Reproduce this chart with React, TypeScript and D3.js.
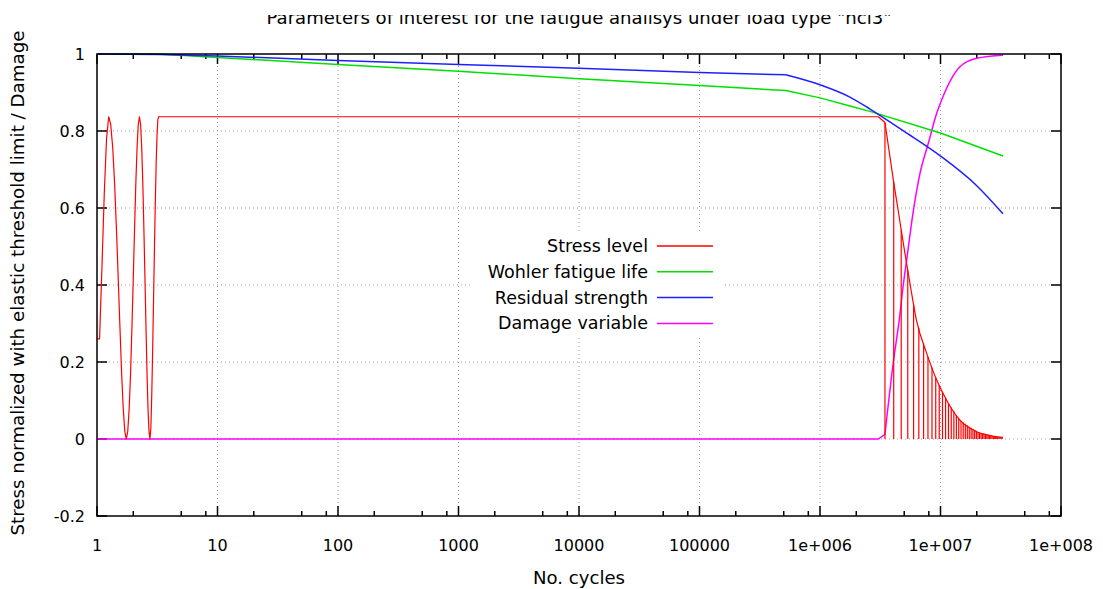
import React, { useEffect, useRef } from "react";
import * as d3 from "d3";

const title = 'Parameters of interest for the fatigue analisys under load type "ncl3"';
const xLabel = "No. cycles";
const yLabel = "Stress normalized with elastic threshold limit / Damage";

const xTicks = [1, 10, 100, 1000, 10000, 100000, 1e6, 1e7, 1e8];
const xTickLabels = ["1", "10", "100", "1000", "10000", "100000", "1e+006", "1e+007", "1e+008"];
const xMinorSteps = [2, 5, 8];
const yTicks = [-0.2, 0, 0.2, 0.4, 0.6, 0.8, 1];
const yTickLabels = ["-0.2", "0", "0.2", "0.4", "0.6", "0.8", "1"];

const seriesNames = ["Stress level", "Wohler fatigue life", "Residual strength", "Damage variable"];
const seriesColors = ["#ff0000", "#00e000", "#2020ff", "#ff00ff"];

// stress level: first cycles + plateau
const stressCycles = [
  1, 1.05, 1.1, 1.15, 1.2, 1.25, 1.3, 1.35, 1.4, 1.45, 1.5, 1.55, 1.6, 1.65, 1.7, 1.75,
  1.8, 1.85, 1.9, 1.95, 2.0, 2.05, 2.1, 2.15, 2.2, 2.25, 2.3, 2.35, 2.4, 2.45, 2.5, 2.55,
  2.6, 2.65, 2.7, 2.75, 2.8, 2.85, 2.9, 2.95, 3.0, 3.05, 3.1, 3.15, 3.2, 3.25, 3.05e6, 3.46e6,
];
const stressValues = [
  0.26, 0.26, 0.45, 0.64, 0.78, 0.837, 0.817, 0.757, 0.664, 0.545, 0.418, 0.291, 0.172, 0.08, 0.02, 0,
  0.02, 0.08, 0.172, 0.291, 0.418, 0.545, 0.664, 0.757, 0.817, 0.837, 0.817, 0.757, 0.664, 0.545, 0.418, 0.291,
  0.172, 0.08, 0.02, 0, 0.03, 0.12, 0.24, 0.37, 0.5, 0.62, 0.72, 0.79, 0.83, 0.837, 0.837, 0.822,
];
// stress level: decaying part (upper envelope)
const decayCycles = [3.46e6, 4.06e6, 4.5e6, 5.08e6, 5.7e6, 6.3e6, 7.67e6, 9.3e6, 1.16e7, 1.45e7, 2.0e7, 2.6e7, 3.3e7];
const decayValues = [0.822, 0.673, 0.585, 0.48, 0.387, 0.31, 0.223, 0.153, 0.093, 0.049, 0.019, 0.009, 0.004];
// cycles (millions) where the stress drops to zero
const stressZeroCycles = [
  3.46, 4.09, 4.72, 5.35, 5.98, 6.61, 7.24, 7.87, 8.5, 9.13, 9.76, 10.39, 11.02, 11.65, 12.28, 12.91,
  13.54, 14.17, 14.8, 15.43, 16.06, 16.69, 17.32, 17.95, 18.58, 19.21, 19.84, 20.47, 21.1, 21.73, 22.36,
  22.99, 23.62, 24.25, 24.88, 25.51, 26.14, 26.77, 27.4, 28.03, 28.66, 29.29, 29.92, 30.55, 31.18, 31.81, 32.44,
];

const wohlerCycles = [1, 3.3, 10, 100, 1000, 1e4, 1e5, 5.2e5, 1e6, 1.77e6, 2.6e6, 1e7, 3.3e7];
const wohlerValues = [1, 1, 0.991, 0.973, 0.955, 0.936, 0.918, 0.905, 0.886, 0.865, 0.851, 0.795, 0.735];

const residualCycles = [1, 3.3, 10, 100, 1000, 1e4, 1e5, 5.2e5, 1e6, 1.77e6, 2.6e6, 5e6, 1e7, 2e7, 3.3e7];
const residualValues = [1, 0.999, 0.995, 0.983, 0.973, 0.963, 0.952, 0.946, 0.92, 0.888, 0.857, 0.799, 0.735, 0.658, 0.585];

const damageCycles = [1, 3.05e6, 3.46e6, 4.06e6, 4.55e6, 4.91e6, 5.24e6, 5.9e6, 6.76e6, 7.92e6, 9.3e6, 1.02e7, 1.45e7, 2e7, 3.3e7];
const damageValues = [0, 0, 0.012, 0.2, 0.31, 0.4, 0.465, 0.585, 0.69, 0.768, 0.846, 0.88, 0.967, 0.989, 0.997];

const FONT = "DejaVu Sans, Verdana, sans-serif";

const FatigueChart = () => {
  const ref = useRef(null);

  useEffect(() => {
    const width = 1103;
    const height = 589;
    const left = 97, right = 1061, top = 54, bottom = 516;

    d3.select(ref.current).selectAll("*").remove();

    const svg = d3
      .select(ref.current)
      .append("svg")
      .attr("width", width)
      .attr("height", height)
      .style("position", "absolute")
      .style("left", "0px")
      .style("top", "0px")
      .style("background", "#fff");

    const x = d3.scaleLog().domain([1, 1e8]).range([left, right]);
    const y = d3.scaleLinear().domain([-0.2, 1]).range([bottom, top]);

    // grid
    const grid = svg.append("g").attr("stroke", "#a0a0a0").attr("stroke-width", 1).attr("stroke-dasharray", "1,3");
    xTicks.slice(1, -1).forEach((t) => {
      grid.append("line").attr("x1", x(t)).attr("x2", x(t)).attr("y1", top).attr("y2", bottom);
    });
    yTicks.slice(1, -1).forEach((t) => {
      grid.append("line").attr("x1", left).attr("x2", right).attr("y1", y(t)).attr("y2", y(t));
    });

    // opaque key box
    svg.append("rect").attr("x", 470).attr("y", 234).attr("width", 252).attr("height", 102).attr("fill", "#fff");

    // ticks
    const tk = svg.append("g").attr("stroke", "#000").attr("stroke-width", 1.5);
    xTicks.forEach((t) => {
      tk.append("line").attr("x1", x(t)).attr("x2", x(t)).attr("y1", bottom).attr("y2", bottom - 10);
      tk.append("line").attr("x1", x(t)).attr("x2", x(t)).attr("y1", top).attr("y2", top + 10);
      if (t < 1e8) {
        xMinorSteps.forEach((m) => {
          const v = t * m;
          tk.append("line").attr("x1", x(v)).attr("x2", x(v)).attr("y1", bottom).attr("y2", bottom - 5);
          tk.append("line").attr("x1", x(v)).attr("x2", x(v)).attr("y1", top).attr("y2", top + 5);
        });
      }
    });
    yTicks.forEach((t) => {
      tk.append("line").attr("x1", left).attr("x2", left + 10).attr("y1", y(t)).attr("y2", y(t));
      tk.append("line").attr("x1", right).attr("x2", right - 10).attr("y1", y(t)).attr("y2", y(t));
    });

    // tick labels
    svg
      .append("g")
      .selectAll("text")
      .data(xTicks)
      .join("text")
      .attr("x", (d) => x(d))
      .attr("y", 551)
      .attr("text-anchor", "middle")
      .attr("font-family", FONT)
      .attr("font-size", 16)
      .attr("fill", "#000")
      .text((d, i) => xTickLabels[i]);

    svg
      .append("g")
      .selectAll("text")
      .data(yTicks)
      .join("text")
      .attr("x", 85)
      .attr("y", (d) => y(d) + 6)
      .attr("text-anchor", "end")
      .attr("font-family", FONT)
      .attr("font-size", 16)
      .attr("fill", "#000")
      .text((d, i) => yTickLabels[i]);

    // series
    const line = d3
      .line()
      .x((d) => x(d[0]))
      .y((d) => y(d[1]));
    const smooth = d3
      .line()
      .curve(d3.curveMonotoneX)
      .x((d) => x(d[0]))
      .y((d) => y(d[1]));

    const plot = svg.append("g").attr("fill", "none").attr("stroke-width", 1.5).attr("stroke-linejoin", "round");

    // damage
    plot
      .append("path")
      .attr("d", line(damageCycles.slice(0, 3).map((c, i) => [c, damageValues[i]])))
      .attr("stroke", seriesColors[3]);
    plot
      .append("path")
      .attr("d", smooth(damageCycles.slice(2).map((c, i) => [c, damageValues[i + 2]])))
      .attr("stroke", seriesColors[3]);

    // stress
    const decayAt = d3.scaleLog().domain(decayCycles).range(decayValues).clamp(true);
    plot
      .append("path")
      .attr("d", line(stressCycles.map((c, i) => [c, stressValues[i]])))
      .attr("stroke", seriesColors[0])
      .attr("stroke-width", 1.2);
    plot
      .append("path")
      .attr("d", smooth(decayCycles.map((c, i) => [c, decayValues[i]])))
      .attr("stroke", seriesColors[0])
      .attr("stroke-width", 1.2);
    plot
      .append("g")
      .selectAll("line")
      .data(stressZeroCycles)
      .join("line")
      .attr("x1", (d) => x(d * 1e6))
      .attr("x2", (d) => x(d * 1e6))
      .attr("y1", y(0))
      .attr("y2", (d) => y(decayAt(d * 1e6)))
      .attr("stroke", seriesColors[0])
      .attr("stroke-width", 1.2);

    // wohler
    plot
      .append("path")
      .attr("d", line(wohlerCycles.map((c, i) => [c, wohlerValues[i]])))
      .attr("stroke", seriesColors[1]);

    // residual strength: straight up to the knee, curved after it
    const knee = 7;
    plot
      .append("path")
      .attr("d", line(residualCycles.slice(0, knee + 1).map((c, i) => [c, residualValues[i]])))
      .attr("stroke", seriesColors[2]);
    plot
      .append("path")
      .attr("d", smooth(residualCycles.slice(knee).map((c, i) => [c, residualValues[i + knee]])))
      .attr("stroke", seriesColors[2]);

    // border
    svg
      .append("rect")
      .attr("x", left)
      .attr("y", top)
      .attr("width", right - left)
      .attr("height", bottom - top)
      .attr("fill", "none")
      .attr("stroke", "#000")
      .attr("stroke-width", 1.5);

    // legend
    const key = svg.append("g");
    seriesNames.forEach((name, i) => {
      const cy = 246 + i * 25.8;
      key
        .append("text")
        .attr("x", 648)
        .attr("y", cy + 6)
        .attr("text-anchor", "end")
        .attr("font-family", FONT)
        .attr("font-size", 17.5)
        .attr("fill", "#000")
        .text(name);
      key
        .append("line")
        .attr("x1", 657)
        .attr("x2", 713)
        .attr("y1", cy)
        .attr("y2", cy)
        .attr("stroke", seriesColors[i])
        .attr("stroke-width", 1.5);
    });

    // titles
    svg
      .append("clipPath")
      .attr("id", "title-clip")
      .append("rect")
      .attr("x", 0)
      .attr("y", 15)
      .attr("width", width)
      .attr("height", 40);
    svg
      .append("text")
      .attr("clip-path", "url(#title-clip)")
      .attr("x", 579)
      .attr("y", 24)
      .attr("text-anchor", "middle")
      .attr("font-family", FONT)
      .attr("font-size", 17)
      .attr("textLength", 625)
      .attr("lengthAdjust", "spacingAndGlyphs")
      .attr("fill", "#000")
      .text(title);

    svg
      .append("text")
      .attr("x", 579)
      .attr("y", 584)
      .attr("text-anchor", "middle")
      .attr("font-family", FONT)
      .attr("font-size", 17)
      .attr("textLength", 92)
      .attr("lengthAdjust", "spacingAndGlyphs")
      .attr("fill", "#000")
      .text(xLabel);

    svg
      .append("text")
      .attr("transform", `translate(24,${(top + bottom) / 2 - 2}) rotate(-90)`)
      .attr("text-anchor", "middle")
      .attr("font-family", FONT)
      .attr("font-size", 17)
      .attr("textLength", 505)
      .attr("lengthAdjust", "spacingAndGlyphs")
      .attr("fill", "#000")
      .text(yLabel);
  }, []);

  return <div ref={ref} />;
};

export default function App() {
  return <FatigueChart />;
}
